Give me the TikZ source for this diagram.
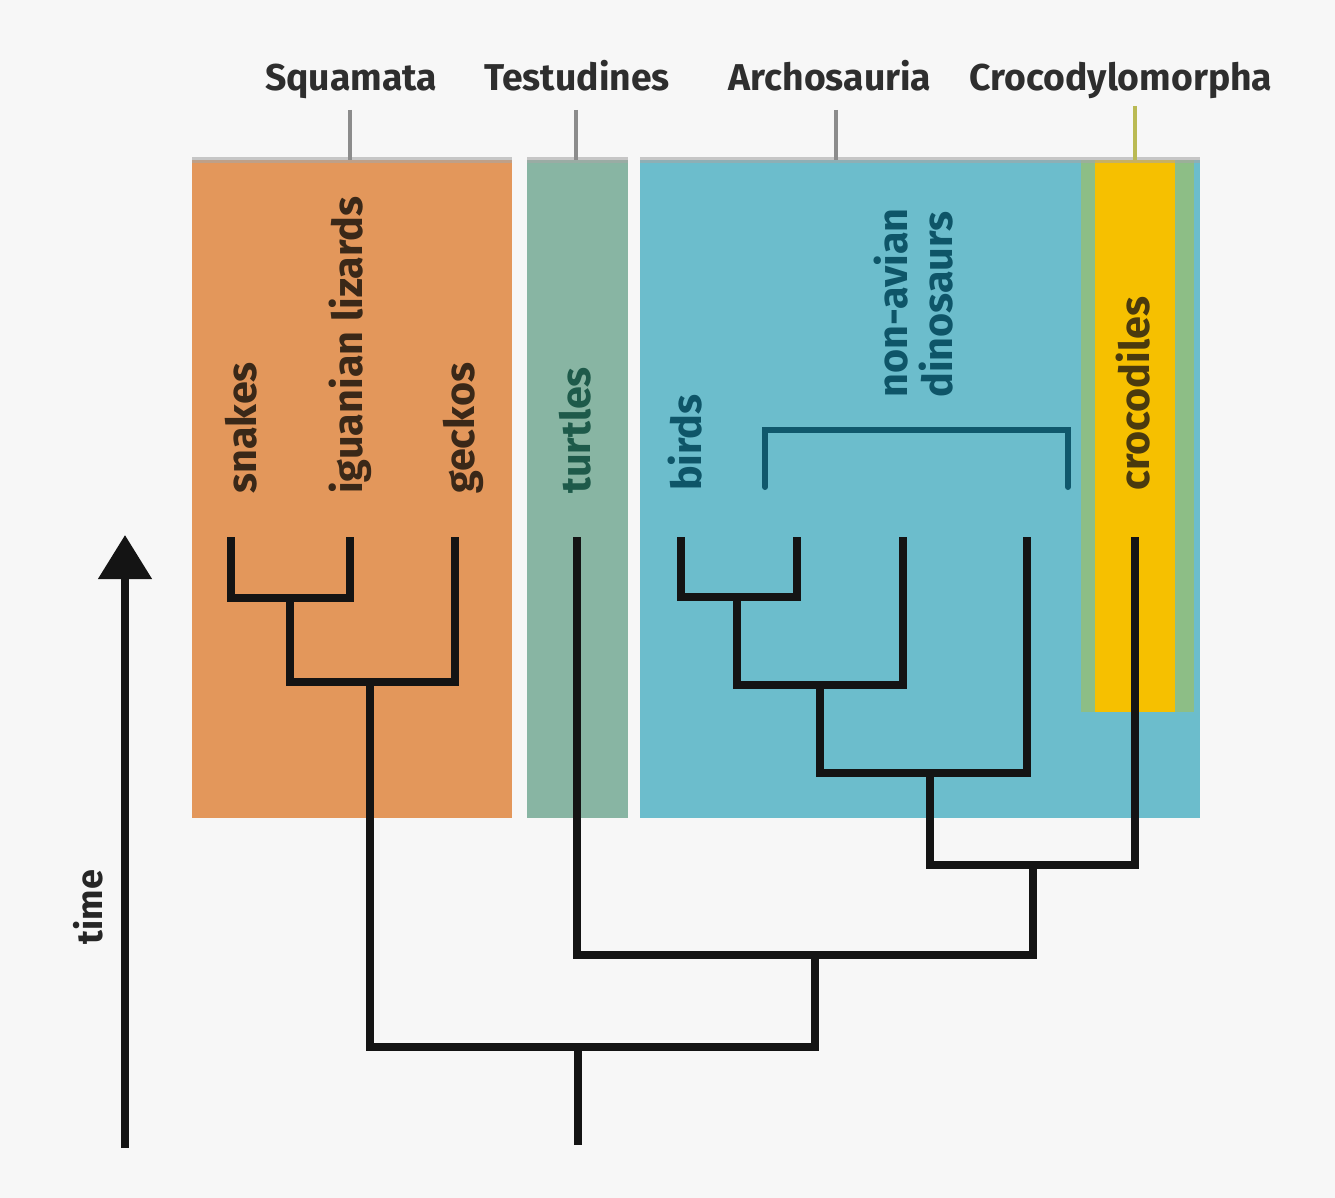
\documentclass[tikz,border=0pt]{standalone}
\usepackage{fontspec}
\setmainfont{Fira Sans}
\usetikzlibrary{arrows.meta}
\definecolor{bgc}{HTML}{F7F7F7}
\definecolor{sqc}{HTML}{E3975B}
\definecolor{tec}{HTML}{88B5A3}
\definecolor{arc}{HTML}{6CBDCC}
\definecolor{crgc}{HTML}{8DBE86}
\definecolor{cryc}{HTML}{F6C000}
\definecolor{headc}{HTML}{2E2E2E}
\definecolor{tickc}{HTML}{8C8C8C}
\definecolor{sqtxt}{HTML}{3A2818}
\definecolor{tetxt}{HTML}{1E5A4A}
\definecolor{artxt}{HTML}{0E5568}
\definecolor{crtxt}{HTML}{4A3A0E}
\definecolor{brc}{HTML}{10586C}
\tikzset{
  branch/.style={line width=6pt, draw=black!92, line join=miter},
  cladelbl/.style={rotate=90, anchor=west, inner sep=0pt, font=\fontsize{31}{34}\selectfont\bfseries},
  headlbl/.style={anchor=base, inner sep=0pt, text=headc, font=\fontsize{28}{31}\selectfont\bfseries},
  tickline/.style={line width=3pt, draw=tickc},
  topedge/.style={line width=4pt, draw=gray!70, opacity=0.6}
}
\begin{document}
\begin{tikzpicture}[x=0.75pt,y=-0.75pt]
\useasboundingbox (0,0) rectangle (1335,1198);
\fill[bgc] (0,0) rectangle (1335,1198);
% clade boxes
\fill[sqc] (192,160) rectangle (512,818);
\fill[tec] (527,160) rectangle (628,818);
\fill[arc] (640,160) rectangle (1200,818);
\fill[crgc] (1081,160) rectangle (1194,712);
\fill[cryc] (1095,160) rectangle (1175,712);
\draw[topedge] (192,160) -- (512,160);
\draw[topedge] (527,160) -- (628,160);
\draw[topedge] (640,160) -- (1200,160);
% headers
\node[headlbl] (hSq) at (351,91) {Squamata};
\node[headlbl] (hTe) at (577,91) {Testudines};
\node[headlbl] (hAr) at (830,91) {Archosauria};
\node[headlbl] (hCr) at (1121,91) {Crocodylomorpha};
\coordinate (sqTop) at (350,160);
\coordinate (teTop) at (576,160);
\coordinate (arTop) at (836,160);
\coordinate (crTop) at (1135,160);
\draw[tickline] (sqTop |- 0,110) -- (sqTop);
\draw[tickline] (teTop |- 0,110) -- (teTop);
\draw[tickline] (arTop |- 0,110) -- (arTop);
\draw[tickline, draw=tickc!60!yellow] (crTop |- 0,106) -- (crTop);
% clade labels
\node[cladelbl, text=sqtxt] (lSn) at (241,494) {snakes};
\node[cladelbl, text=sqtxt] (lIg) at (350,494) {iguanian lizards};
\node[cladelbl, text=sqtxt] (lGe) at (463,494) {geckos};
\node[cladelbl, text=tetxt] (lTu) at (575,494) {turtles};
\node[cladelbl, text=artxt] (lBi) at (685,491) {birds};
\node[cladelbl, text=artxt] (lNa) at (891,398) {non-avian};
\node[cladelbl, text=artxt] (lDi) at (936,398) {dinosaurs};
\node[cladelbl, text=crtxt] (lCr) at (1133,491) {crocodiles};
% bracket for non-avian dinosaurs
\coordinate (bL) at (765,487);
\coordinate (bR) at (1068,487);
\draw[line width=4.5pt, draw=brc, line cap=round] (bL) |- (lNa.west |- 0,430) -| (bR);
% tree tips
\coordinate (snk) at (231,537);
\coordinate (igu) at (350,537);
\coordinate (gek) at (455,537);
\coordinate (tur) at (577,537);
\coordinate (brd) at (681,537);
\coordinate (bb2) at (797,537);
\coordinate (dn1) at (903,537);
\coordinate (dn2) at (1027,537);
\coordinate (cro) at (1135,537);
% internal nodes
\coordinate (sq1) at (290,598);
\coordinate (sq2) at (370,682);
\coordinate (ar1) at (737,597);
\coordinate (ar2) at (820,685);
\coordinate (ar3) at (930,773);
\coordinate (ar4) at (1033,865);
\coordinate (ar5) at (815,955);
\coordinate (rt) at (578,1047);
\coordinate (base) at (578,1145);
% branches
\draw[branch] (snk) |- (sq1) -| (igu);
\draw[branch] (sq1) |- (sq2) -| (gek);
\draw[branch] (sq2) |- (rt) -| (ar5);
\draw[branch] (rt) -- (base);
\draw[branch] (tur) |- (ar5) -| (ar4);
\draw[branch] (brd) |- (ar1) -| (bb2);
\draw[branch] (ar1) |- (ar2) -| (dn1);
\draw[branch] (ar2) |- (ar3) -| (dn2);
\draw[branch] (ar3) |- (ar4) -| (cro);
% time arrow
\coordinate (tB) at (125,1148);
\coordinate (tT) at (125,535);
\draw[line width=6pt, black!92, -{Triangle[length=33pt,width=39pt]}] (tB) -- (tT);
\node[rotate=90, inner sep=0pt, text=black!85, font=\fontsize{27}{30}\selectfont\bfseries] (lTime) at (88,907) {time};
\end{tikzpicture}
\end{document}
